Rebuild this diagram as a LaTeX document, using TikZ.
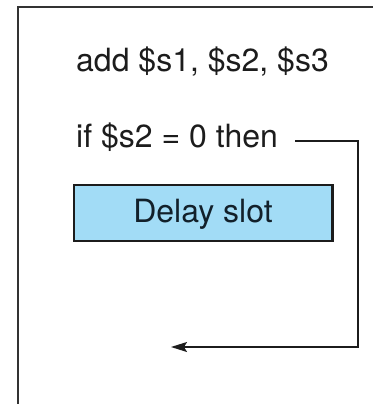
\documentclass[tikz,border=0pt]{standalone}
\usepackage{fontspec}
\setmainfont{TeX Gyre Heros}
\usetikzlibrary{arrows.meta}
\definecolor{ink}{HTML}{1C1C1C}
\definecolor{slotblue}{HTML}{A2DCF6}
\definecolor{slotink}{HTML}{12202A}
\tikzset{
  code/.style={anchor=base west, inner sep=0pt, text=ink,
    font=\fontsize{32}{38}\selectfont},
  slotbox/.style={draw=ink, line width=2.2pt, fill=slotblue},
  frameline/.style={draw=ink!90, line width=2pt},
  jump/.style={draw=ink, line width=1.4pt,
    -{Stealth[length=16pt,width=10pt,inset=3pt]}}
}
\begin{document}
\begin{tikzpicture}[x=1pt,y=-1pt]
  \useasboundingbox (0,0) rectangle (372,404);
  % outer frame, open at the right and bottom
  \draw[frameline] (17.5,405) -- (17.5,7.5) -- (373,7.5);
  % instructions
  \node[code] (add) at (76,71) {add \$s1, \$s2, \$s3};
  \node[code] (if) at (76,147) {if \$s2 = 0 then};
  % delay slot
  \draw[slotbox] (74,185) rectangle (332.5,241);
  \node[anchor=base, inner sep=0pt, text=slotink,
    font=\fontsize{32}{38}\selectfont] (slot) at (203,222) {Delay slot};
  % branch target arrow
  \coordinate (from) at (295,141);
  \coordinate (corner1) at (358,141);
  \coordinate (corner2) at (358,347);
  \coordinate (target) at (171,347);
  \draw[jump] (from) -- (corner1) -- (corner2) -- (target);
\end{tikzpicture}
\end{document}
